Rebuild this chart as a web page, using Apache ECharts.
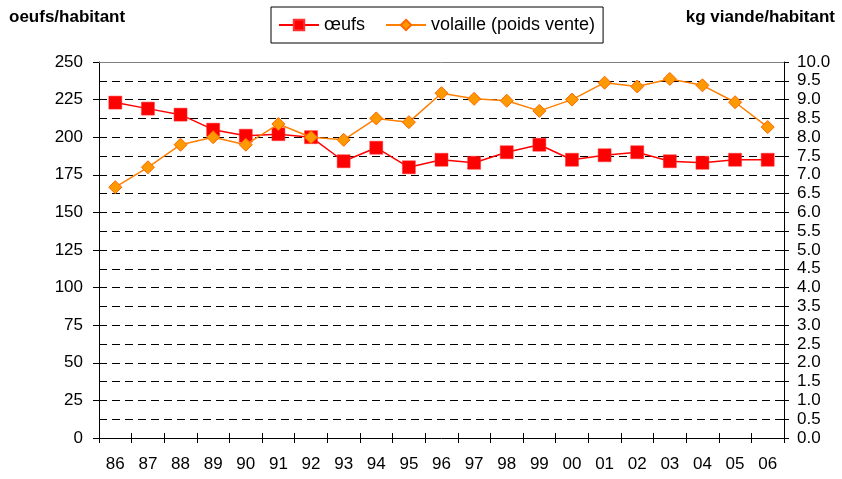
<!DOCTYPE html>
<html lang="fr">
<head>
  <meta charset="UTF-8">
  <title>oeufs / volaille</title>
  <script src="https://cdn.jsdelivr.net/npm/echarts@6/dist/echarts.min.js"></script>
  <style>
    body { margin: 0; padding: 0; background: #fff; }
    #chart { width: 842px; height: 479px; }
  </style>
</head>
<body>
  <div id="chart"></div>
  <script>
    // années
    var years = ['86', '87', '88', '89', '90', '91', '92', '93', '94', '95', '96',
                 '97', '98', '99', '00', '01', '02', '03', '04', '05', '06'];
    // oeufs par habitant (axe gauche)
    var oeufs = [223, 219, 215, 205, 201, 202, 200, 184, 193, 180, 185,
                 183, 190, 195, 185, 188, 190, 184, 183, 185, 185];
    // volaille, kg par habitant (axe droit)
    var volaille = [6.67, 7.2, 7.8, 8.0, 7.8, 8.35, 8.0, 7.93, 8.5, 8.4, 9.17,
                    9.02, 8.97, 8.7, 9.0, 9.45, 9.35, 9.55, 9.38, 8.93, 8.27];

    var font = 'Liberation Sans, Arial, sans-serif';
    var chart = echarts.init(document.getElementById('chart'));

    chart.setOption({
      animation: false,
      textStyle: { fontFamily: font },
      title: [
        { text: 'oeufs/habitant', left: 4, top: 4,
          textStyle: { fontSize: 17, fontWeight: 'bold', color: '#000', fontFamily: font } },
        { text: 'kg viande/habitant', right: 2, top: 4,
          textStyle: { fontSize: 17, fontWeight: 'bold', color: '#000', fontFamily: font } }
      ],
      legend: {
        left: 271, top: 7,
        padding: [9, 8, 9, 7],
        itemGap: 20,
        itemWidth: 40, itemHeight: 13,
        borderColor: '#000', borderWidth: 1,
        textStyle: { fontSize: 18, color: '#000', fontFamily: font },
        data: ['œufs', 'volaille (poids vente)']
      },
      grid: { left: 99, right: 58, top: 62, bottom: 41 },
      xAxis: [
        {
          type: 'category', data: years, boundaryGap: true,
          axisLine: { lineStyle: { color: '#000', width: 1 } },
          axisTick: { show: true, interval: 0, length: 5, lineStyle: { color: '#000' } },
          axisLabel: { interval: 0, margin: 18, fontSize: 17, color: '#000' }
        },
        {
          type: 'category', data: years, boundaryGap: true, position: 'bottom',
          axisLine: { show: false },
          axisTick: { show: true, inside: true, interval: 0, length: 5, lineStyle: { color: '#000' } },
          axisLabel: { show: false }
        }
      ],
      yAxis: [
        {
          type: 'value', min: 0, max: 250, interval: 25, position: 'left',
          axisLine: { show: true, lineStyle: { color: '#000' } },
          axisTick: { show: true, length: 6, lineStyle: { color: '#000' } },
          axisLabel: { fontSize: 17, color: '#000', margin: 16 },
          splitLine: { show: false }
        },
        {
          type: 'value', min: 0, max: 10, interval: 0.5, position: 'right',
          axisLine: { show: true, lineStyle: { color: '#000' } },
          axisTick: { show: true, length: 5, lineStyle: { color: '#000' } },
          axisLabel: {
            fontSize: 17, color: '#000', margin: 13,
            formatter: function (v) { return v.toFixed(1); }
          },
          splitLine: {
            show: true, showMinLine: false, showMaxLine: false,
            lineStyle: { color: '#000', type: [8, 5], width: 1 }
          }
        },
        {
          // repères intérieurs à gauche
          type: 'value', min: 0, max: 250, interval: 25, position: 'left',
          axisLine: { show: false },
          axisTick: { show: true, inside: true, length: 6, lineStyle: { color: '#000' } },
          axisLabel: { show: false },
          splitLine: { show: false }
        },
        {
          type: 'value', min: 0, max: 10, interval: 0.5, position: 'right',
          axisLine: { show: false },
          axisTick: { show: true, inside: true, length: 4, lineStyle: { color: '#000' } },
          axisLabel: { show: false },
          splitLine: { show: false }
        }
      ],
      series: [
        {
          name: 'œufs', type: 'line', yAxisIndex: 0, data: oeufs,
          symbol: 'rect', symbolSize: 13,
          lineStyle: { color: '#ff0000', width: 1.5 },
          itemStyle: { color: '#ff0000', borderColor: '#ff3030', borderWidth: 0.5 },
          z: 3
        },
        {
          name: 'volaille (poids vente)', type: 'line', yAxisIndex: 1, data: volaille,
          symbol: 'diamond', symbolSize: [13, 13],
          lineStyle: { color: '#ff7f00', width: 1.5 },
          itemStyle: { color: '#ff9900', borderColor: '#ff6600', borderWidth: 1 },
          z: 4
        },
        {
          // bordure grise en haut de la zone de tracé
          type: 'line', yAxisIndex: 0, data: [],
          silent: true,
          markLine: {
            silent: true, symbol: 'none', label: { show: false },
            lineStyle: { color: '#808080', type: 'solid', width: 1 },
            data: [{ yAxis: 250 }]
          }
        }
      ]
    });
  </script>
</body>
</html>
